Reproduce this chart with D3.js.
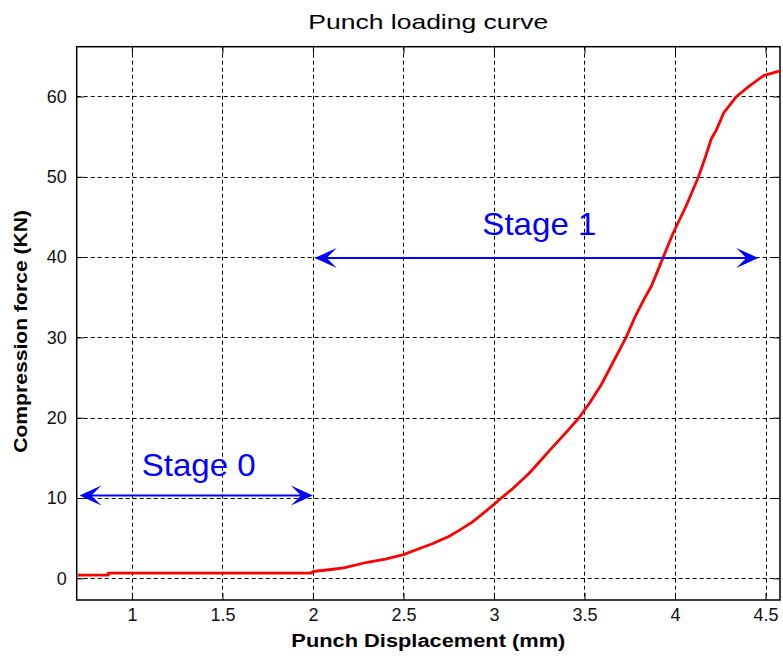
<!DOCTYPE html>
<html>
<head>
<meta charset="utf-8">
<script src="https://cdn.jsdelivr.net/npm/d3@7"></script>
<style>
  html, body { margin: 0; padding: 0; background: #fff; }
  svg { display: block; }
</style>
</head>
<body>
<svg id="chart" width="783" height="656"></svg>
<script>
// ---- data ----
const displacement = [0.70, 0.87, 0.87, 1.99, 2.00, 2.10, 2.17, 2.30, 2.40, 2.50, 2.60, 2.66, 2.75, 2.81, 2.88, 2.93, 3.00, 3.04, 3.10, 3.19, 3.22, 3.31, 3.40, 3.47, 3.53, 3.59, 3.66, 3.73, 3.78, 3.83, 3.87, 3.935, 3.99, 4.06, 4.13, 4.17, 4.20, 4.23, 4.27, 4.34, 4.41, 4.49, 4.58];
const force        = [0.40, 0.40, 0.65, 0.65, 0.85, 1.10, 1.30, 2.00, 2.40, 2.95, 3.80, 4.30, 5.20, 6.00, 7.00, 7.90, 9.20, 10.0, 11.1, 13.0, 13.7, 16.0, 18.2, 20.0, 21.9, 24.0, 27.0, 30.0, 32.6, 34.8, 36.4, 40.0, 43.0, 46.3, 50.0, 52.6, 54.7, 55.9, 58.0, 60.0, 61.3, 62.6, 63.2];
const xTicks = [1, 1.5, 2, 2.5, 3, 3.5, 4, 4.5];
const yTicks = [0, 10, 20, 30, 40, 50, 60];
const xDomain = [0.695, 4.58];
const yDomain = [-2.7, 66.2];
const stageLabels = ["Stage 0", "Stage 1"];
const stageStart  = [0.71, 2.01];
const stageEnd    = [2.00, 4.46];
const stageLevel  = [10.3, 39.9];
const stageTextX  = [1.054, 2.936];
const stageTextY  = [12.74, 42.75];
const titleText = "Punch loading curve";
const xLabel = "Punch Displacement (mm)";
const yLabel = "Compression force (KN)";

// ---- layout ----
const mL = 76.7, mR = 780, mT = 46.7, mB = 600;
const svg = d3.select("#chart");
const x = d3.scaleLinear().domain(xDomain).range([mL, mR]);
const y = d3.scaleLinear().domain(yDomain).range([mB, mT]);
const font = "'Liberation Sans', Arial, sans-serif";

// grid
const grid = svg.append("g").attr("stroke", "#000").attr("stroke-width", 1).attr("stroke-dasharray", "4,3");
grid.selectAll("line.vx").data(xTicks).join("line")
  .attr("x1", d => Math.round(x(d)) + 0.5).attr("x2", d => Math.round(x(d)) + 0.5)
  .attr("y1", mT).attr("y2", mB);
grid.selectAll("line.hy").data(yTicks).join("line")
  .attr("y1", d => Math.round(y(d)) + 0.5).attr("y2", d => Math.round(y(d)) + 0.5)
  .attr("x1", mL).attr("x2", mR);

// axes (ticks inward, box)
const tickLen = 7;
const axB = svg.append("g").attr("transform", `translate(0,${mB})`)
  .call(d3.axisBottom(x).tickValues(xTicks).tickSizeInner(-tickLen).tickSizeOuter(0).tickPadding(8).tickFormat(d3.format("")));
const axT = svg.append("g").attr("transform", `translate(0,${mT})`)
  .call(d3.axisTop(x).tickValues(xTicks).tickSizeInner(-tickLen).tickSizeOuter(0).tickFormat(""));
const axL = svg.append("g").attr("transform", `translate(${mL},0)`)
  .call(d3.axisLeft(y).tickValues(yTicks).tickSizeInner(-tickLen).tickSizeOuter(0).tickPadding(10).tickFormat(d3.format("")));
const axR = svg.append("g").attr("transform", `translate(${mR},0)`)
  .call(d3.axisRight(y).tickValues(yTicks).tickSizeInner(-tickLen).tickSizeOuter(0).tickFormat(""));
[axB, axT, axL, axR].forEach(a => {
  a.select(".domain").remove();
  a.selectAll("line").attr("stroke", "#000").attr("stroke-width", 1);
  a.selectAll("text").attr("font-family", font).attr("font-size", 18).attr("fill", "#111");
});

// frame
svg.append("rect").attr("x", mL).attr("y", mT).attr("width", mR - mL).attr("height", mB - mT)
  .attr("fill", "none").attr("stroke", "#000").attr("stroke-width", 1.5);

// curve
const pts = displacement.map((d, i) => [d, force[i]]);
svg.append("path").datum(pts)
  .attr("fill", "none").attr("stroke", "#ff0000").attr("stroke-width", 2.8).attr("stroke-linejoin", "round")
  .attr("d", d3.line().x(d => x(d[0])).y(d => y(d[1])));

// arrows
function arrowHead(g, tipX, tipY, dir) {
  const L = 22, W = 10, notch = 12;
  const p = [
    [tipX, tipY],
    [tipX + dir * L, tipY - W],
    [tipX + dir * notch, tipY],
    [tipX + dir * L, tipY + W]
  ];
  g.append("path").attr("d", "M" + p.map(q => q.join(",")).join("L") + "Z").attr("fill", "#0000ff");
}
const arrows = svg.append("g");
stageLabels.forEach((lab, i) => {
  const x1 = x(stageStart[i]), x2 = x(stageEnd[i]), yy = y(stageLevel[i]);
  arrows.append("line").attr("x1", x1 + 10).attr("x2", x2 - 10).attr("y1", yy).attr("y2", yy)
    .attr("stroke", "#0000ff").attr("stroke-width", 2);
  arrowHead(arrows, x1, yy, 1);
  arrowHead(arrows, x2, yy, -1);
  svg.append("text").attr("x", x(stageTextX[i])).attr("y", y(stageTextY[i]))
    .attr("font-family", font).attr("font-size", 32).attr("fill", "#0000ff")
    .attr("textLength", 114).attr("lengthAdjust", "spacingAndGlyphs")
    .text(lab);
});

// title & labels
svg.append("text").attr("x", (mL + mR) / 2).attr("y", 29).attr("text-anchor", "middle")
  .attr("font-family", font).attr("font-size", 21).attr("fill", "#000")
  .attr("textLength", 240).attr("lengthAdjust", "spacingAndGlyphs").text(titleText);
svg.append("text").attr("x", (mL + mR) / 2).attr("y", 647).attr("text-anchor", "middle")
  .attr("font-family", font).attr("font-size", 18).attr("font-weight", "bold").attr("fill", "#000")
  .attr("textLength", 274).attr("lengthAdjust", "spacingAndGlyphs").text(xLabel);
svg.append("text").attr("transform", `translate(27,${(mT + mB) / 2 + 8}) rotate(-90)`).attr("text-anchor", "middle")
  .attr("font-family", font).attr("font-size", 18).attr("font-weight", "bold").attr("fill", "#000")
  .attr("textLength", 243).attr("lengthAdjust", "spacingAndGlyphs").text(yLabel);
</script>
</body>
</html>
